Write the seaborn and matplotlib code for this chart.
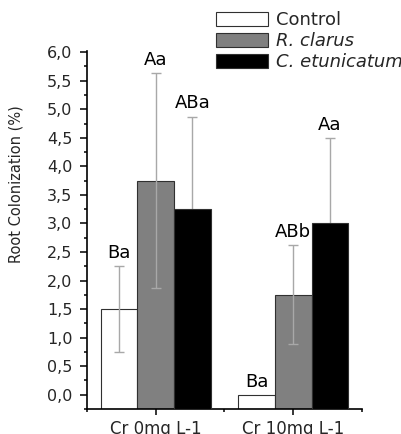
import numpy as np
import pandas as pd
import matplotlib
matplotlib.use("Agg")
import matplotlib.pyplot as plt
import seaborn as sns
from matplotlib.patches import Patch
from matplotlib.container import BarContainer
from matplotlib.ticker import FixedLocator, FuncFormatter

# ---- data ----
groups = ["Cr 0mg L-1", "Cr 10mg L-1"]
treatments = ["Control", "R. clarus", "C. etunicatum"]
control = [1.50, 0.00]
r_clarus = [3.75, 1.75]
c_etunicatum = [3.25, 3.00]
control_err = [0.75, 0.00]
r_clarus_err = [1.88, 0.87]
c_etunicatum_err = [1.62, 1.50]
control_letters = ["Ba", "Ba"]
r_clarus_letters = ["Aa", "ABb"]
c_etunicatum_letters = ["ABa", "Aa"]
y_major = [0.0, 0.5, 1.0, 1.5, 2.0, 2.5, 3.0, 3.5, 4.0, 4.5, 5.0, 5.5, 6.0]
y_minor = [-0.25, 0.25, 0.75, 1.25, 1.75, 2.25, 2.75, 3.25, 3.75, 4.25, 4.75, 5.25, 5.75]
x_minor = [-0.5, 0.5, 1.5]
y_label = "Root Colonization (%)"

sns.set_style("ticks")
plt.rcParams["font.family"] = ["DejaVu Sans"]

W, H = 402, 434
fig = plt.figure(figsize=(W / 100, H / 100), dpi=100)
ax = fig.add_axes([87 / W, 1 - 409 / H, 275 / W, 358 / H])

values = [control, r_clarus, c_etunicatum]
errors = [control_err, r_clarus_err, c_etunicatum_err]
letters = [control_letters, r_clarus_letters, c_etunicatum_letters]
rows = []
for t, vals in zip(treatments, values):
    for g, v in zip(groups, vals):
        rows.append({"group": g, "treatment": t, "value": v})
df = pd.DataFrame(rows)

colors = ["#ffffff", "#808080", "#000000"]
sns.barplot(data=df, x="group", y="value", hue="treatment", order=groups,
            hue_order=treatments, palette=colors, saturation=1, width=0.8,
            errorbar=None, edgecolor="#303030", linewidth=0.8, legend=False, ax=ax)

ymin, ymax = -0.25, 6.02
ax.set_xlim(-0.5, 1.5)
ax.set_ylim(ymin, ymax)

bar_containers = [c for c in ax.containers if isinstance(c, BarContainer)]
for i, cont in enumerate(bar_containers):
    for j, bar in enumerate(list(cont.patches)):
        h = bar.get_height()
        bar.set_y(ymin)
        bar.set_height(h - ymin)
        if i == 2:
            bar.set_zorder(3)
        xc = bar.get_x() + bar.get_width() / 2
        e = errors[i][j]
        if e > 0:
            ax.errorbar(xc, h, yerr=e, fmt="none", ecolor="#a8a8a8", elinewidth=1.0,
                        capsize=3.5, capthick=1.0, zorder=2.5)
        ax.annotate(letters[i][j], (xc, h + e), xytext=(0, 3), textcoords="offset points",
                    ha="center", va="bottom", fontsize=13, color="black", zorder=5)

sns.despine(ax=ax)
for s in ["left", "bottom"]:
    ax.spines[s].set_linewidth(1.2)
    ax.spines[s].set_color("black")

ax.yaxis.set_major_locator(FixedLocator(y_major))
ax.yaxis.set_minor_locator(FixedLocator(y_minor))
ax.yaxis.set_major_formatter(FuncFormatter(lambda v, p: f"{v:.1f}".replace(".", ",")))
ax.xaxis.set_minor_locator(FixedLocator(x_minor))
ax.tick_params(axis="y", which="major", direction="out", length=5, width=1.1, labelsize=11.5, pad=5.5, color="black")
ax.tick_params(axis="y", which="minor", direction="out", length=2.5, width=1.1, color="black")
ax.tick_params(axis="x", which="major", direction="out", length=4, width=1.1, labelsize=12, pad=4, color="black")
ax.tick_params(axis="x", which="minor", direction="out", length=2.5, width=1.1, color="black")

ax.set_xlabel("")
ax.set_ylabel(y_label, fontsize=10.5)
ax.yaxis.set_label_coords(-0.232, 0.627)

handles = [Patch(facecolor=c, edgecolor="#303030", linewidth=0.8) for c in colors]
leg = ax.legend(handles, treatments, loc="upper left", bbox_to_anchor=(216 / W, 1 - 11 / H),
                bbox_transform=fig.transFigure, frameon=False, fontsize=13,
                handlelength=2.9, handleheight=0.8, handletextpad=0.4,
                labelspacing=0.17, borderpad=0, borderaxespad=0)
for k, txt in enumerate(leg.get_texts()):
    if k > 0:
        txt.set_fontstyle("italic")

fig.savefig("out.png", dpi=100)
